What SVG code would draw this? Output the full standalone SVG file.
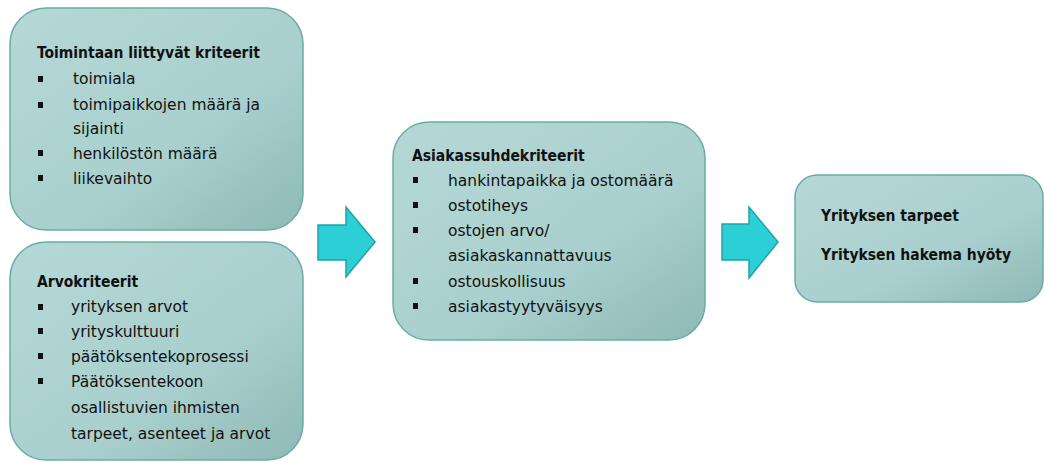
<svg xmlns="http://www.w3.org/2000/svg" width="1044" height="463" viewBox="0 0 1044 463">
<defs>
<linearGradient id="g" x1="0" y1="0" x2="1" y2="1">
<stop offset="0" stop-color="#b5d8d6"/>
<stop offset="0.6" stop-color="#a9d0ce"/>
<stop offset="1" stop-color="#8eb9b5"/>
</linearGradient>
</defs>
<style>
.box{fill:url(#g);stroke:#6aaca7;stroke-width:1.5}
.arr{fill:#2dcfd6;stroke:#1fa3a8;stroke-width:1.5}
text{font-family:"DejaVu Sans","Liberation Sans",sans-serif;font-size:15.5px;fill:#111}
.t{font-family:"DejaVu Sans Condensed","DejaVu Sans",sans-serif;font-weight:bold;font-size:15.5px}
.b{fill:#111}
</style>
<g id="node1">
<rect class="box" x="10" y="8" width="293" height="222" rx="36"/>
<text class="t" x="37" y="58">Toimintaan liittyvät kriteerit</text>
<rect class="b" x="38" y="76" width="5" height="6"/><text x="73" y="84">toimiala</text>
<rect class="b" x="38" y="102" width="5" height="6"/><text x="73" y="110">toimipaikkojen määrä ja</text>
<text x="73" y="134">sijainti</text>
<rect class="b" x="38" y="150" width="5" height="6"/><text x="73" y="159">henkilöstön määrä</text>
<rect class="b" x="38" y="175" width="5" height="6"/><text x="73" y="184">liikevaihto</text>
</g>
<g id="node2">
<rect class="box" x="10" y="242" width="293" height="218" rx="36"/>
<text class="t" x="37" y="287">Arvokriteerit</text>
<rect class="b" x="38" y="304" width="5" height="6"/><text x="71" y="312">yrityksen arvot</text>
<rect class="b" x="38" y="328" width="5" height="6"/><text x="71" y="337">yrityskulttuuri</text>
<rect class="b" x="38" y="353" width="5" height="6"/><text x="71" y="362">päätöksentekoprosessi</text>
<rect class="b" x="38" y="378" width="5" height="6"/><text x="71" y="387">Päätöksentekoon</text>
<text x="71" y="413">osallistuvien ihmisten</text>
<text x="71" y="439">tarpeet, asenteet ja arvot</text>
</g>
<g id="node3">
<rect class="box" x="393" y="122" width="312" height="218" rx="36"/>
<text class="t" x="412" y="161">Asiakassuhdekriteerit</text>
<rect class="b" x="413" y="177" width="5" height="6"/><text x="448" y="186">hankintapaikka ja ostomäärä</text>
<rect class="b" x="413" y="202" width="5" height="6"/><text x="448" y="211">ostotiheys</text>
<rect class="b" x="413" y="227" width="5" height="6"/><text x="448" y="236">ostojen arvo/</text>
<text x="448" y="261">asiakaskannattavuus</text>
<rect class="b" x="413" y="278" width="5" height="6"/><text x="448" y="287">ostouskollisuus</text>
<rect class="b" x="413" y="303" width="5" height="6"/><text x="448" y="312">asiakastyytyväisyys</text>
</g>
<g id="node4">
<rect class="box" x="795" y="175" width="248" height="127" rx="22"/>
<text class="t" x="821" y="221">Yrityksen tarpeet</text>
<text class="t" x="821" y="260">Yrityksen hakema hyöty</text>
</g>
<g id="connectors">
<polygon class="arr" points="318,225 346,225 346,207 375,242 346,277 346,260 318,260"/>
<polygon class="arr" points="722,224 749,224 749,207 778,242 749,278 749,260 722,260"/>
</g>
</svg>
